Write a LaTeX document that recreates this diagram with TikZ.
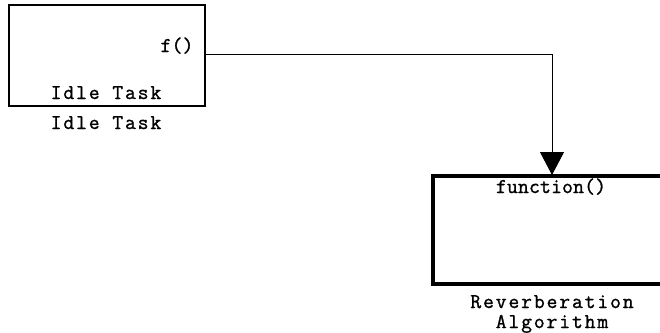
\documentclass[tikz,border=0pt]{standalone}
\usepackage{fontspec}
\newfontfamily\lblfont[LetterSpace=9,FakeBold=1.2]{Latin Modern Mono}
\newfontfamily\fnfont[LetterSpace=1,FakeBold=1.2]{Latin Modern Mono}
\usetikzlibrary{arrows.meta}
\begin{document}
\begin{tikzpicture}[x=1pt,y=-1pt,
  lbl/.style={font=\lblfont\fontsize{21}{23}\selectfont, inner sep=0pt, anchor=base},
  fn/.style={font=\fnfont\fontsize{21}{23}\selectfont, inner sep=0pt, anchor=base},
  thinbox/.style={draw, line width=1.4pt, inner sep=0pt},
  thickbox/.style={draw, line width=3.5pt, inner sep=0pt},
  conn/.style={line width=1pt, -{Triangle[length=23pt,width=24pt]}}]
\useasboundingbox (0,0) rectangle (660,332);
\clip (0,0) rectangle (660,332);
\node[thinbox, minimum width=196pt, minimum height=101pt] (idle) at (107,55.5) {};
\node[thickbox, minimum width=234pt, minimum height=108pt] (rev) at (550,230) {};
\node[fn] (fport) at (177,52) {f()};
\node[lbl] (idlein) at (106,99) {Idle Task};
\node[lbl] (idleout) at (106,129) {Idle Task};
\node[fn] (func) at (551,193) {function()};
\node[lbl] (rev1) at (552,308) {Reverberation};
\node[lbl] (rev2) at (552,328) {Algorithm};
\coordinate (out) at (idle.east |- 0,54);
\coordinate (tip) at (552,175);
\draw[conn] (out) -| (tip);
\end{tikzpicture}
\end{document}
